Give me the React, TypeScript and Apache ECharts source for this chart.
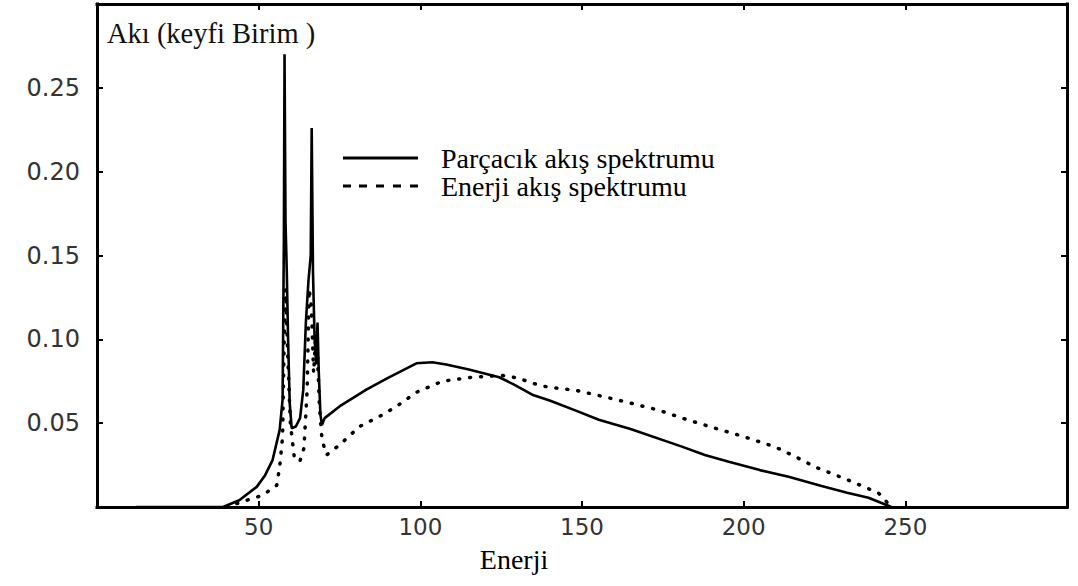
import React, { useEffect, useRef } from "react";
import * as echarts from "echarts";

// Particle flux spectrum (solid)
const particleEnergy = [12, 39, 44, 49.4, 52, 54.3, 56.5, 57.4, 57.8, 58.0, 58.3, 58.7, 59.1, 59.6, 60.2, 61.5, 62.8, 63.8, 64.6, 65.4, 66.1, 66.4, 66.8, 67.3, 67.8, 68.2, 68.6, 69.1, 69.6, 70.4, 75, 83.3, 90, 98.8, 103.7, 108, 115, 124.4, 129, 134.6, 140, 148.1, 155.2, 165, 180.9, 188, 195.4, 205, 213.9, 224.1, 232, 238.6, 245.7];
const particleFlux = [0, 0, 0.004, 0.012, 0.019, 0.028, 0.046, 0.064, 0.16, 0.27, 0.17, 0.14, 0.1, 0.062, 0.047, 0.048, 0.053, 0.07, 0.11, 0.135, 0.15, 0.226, 0.14, 0.1, 0.085, 0.11, 0.08, 0.055, 0.049, 0.053, 0.06, 0.07, 0.077, 0.0857, 0.0863, 0.085, 0.082, 0.0774, 0.073, 0.067, 0.0635, 0.0575, 0.052, 0.0465, 0.036, 0.031, 0.027, 0.022, 0.018, 0.0125, 0.0085, 0.0055, 0];

// Energy flux spectrum (dotted)
const energyEnergy = [40, 46.3, 51.2, 55.6, 56.5, 57.4, 57.9, 58.4, 59.0, 59.8, 61, 62.7, 64, 65, 65.6, 66.3, 67, 67.6, 68.2, 68.8, 69.6, 71, 75, 81.2, 88.3, 92.6, 98.8, 106.8, 116, 125.3, 130, 136.7, 140, 148.1, 157.4, 165, 173.8, 181, 190.1, 200, 209.9, 216, 222.2, 232.4, 241.7, 245.7];
const energyFlux = [0, 0.004, 0.007, 0.013, 0.024, 0.042, 0.1, 0.13, 0.09, 0.05, 0.03, 0.027, 0.035, 0.07, 0.13, 0.12, 0.08, 0.1, 0.09, 0.06, 0.04, 0.031, 0.037, 0.048, 0.055, 0.06, 0.0684, 0.075, 0.0774, 0.0785, 0.077, 0.0726, 0.0714, 0.0696, 0.0655, 0.062, 0.0577, 0.053, 0.0476, 0.042, 0.0357, 0.03, 0.0238, 0.016, 0.0083, 0];

const xTickLabels = ["50", "100", "150", "200", "250"];
const yTickLabels = ["0.05", "0.10", "0.15", "0.20", "0.25"];

const seriesNames = ["Parçacık akış spektrumu", "Enerji akış spektrumu"];
const xAxisName = "Enerji";
const yAxisName = "Akı (keyfi Birim )";

const pairs = (xs: number[], ys: number[]) => xs.map((x, i) => [x, ys[i]]);

const SOLID_ICON = "path://M0,0h75v3h-75z";
const DASH_ICON = "path://M0,0h8v3h-8z M16,0h8v3h-8z M33,0h8v3h-8z M50,0h8v3h-8z M67,0h8v3h-8z";

export default function App() {
  const ref = useRef<HTMLDivElement>(null);
  useEffect(() => {
    if (!ref.current) return;
    const chart = echarts.init(ref.current, undefined, { renderer: "svg" });
    const serif = "Liberation Serif, Times New Roman, serif";
    const sans = "DejaVu Sans, sans-serif";
    const tick = () => ({ show: true, inside: true, length: 6, lineStyle: { color: "#000", width: 2 } });
    const line = () => ({ show: true, onZero: false, lineStyle: { color: "#000", width: 3, cap: "square" } });
    chart.setOption({
      animation: false,
      backgroundColor: "#fff",
      grid: { left: 97, right: 11, top: 4, bottom: 79, show: false },
      legend: {
        orient: "vertical",
        left: 338,
        top: 139,
        itemWidth: 75,
        itemHeight: 3,
        itemGap: 0,
        textStyle: { fontFamily: serif, fontSize: 28, lineHeight: 26, color: "#000", padding: [0, 0, 0, 18] },
        data: [
          { name: seriesNames[0], icon: SOLID_ICON, itemStyle: { color: "#000" } },
          { name: seriesNames[1], icon: DASH_ICON, itemStyle: { color: "#000" } },
        ],
      },
      xAxis: [
        {
          type: "value",
          min: 0,
          max: 300,
          interval: 50,
          position: "bottom",
          name: xAxisName,
          nameLocation: "middle",
          nameGap: 38,
          nameTextStyle: { fontFamily: serif, fontSize: 28, color: "#000", padding: [0, 136, 0, 0] },
          axisLine: line(),
          axisTick: tick(),
          splitLine: { show: false },
          axisLabel: {
            margin: 8,
            fontFamily: sans,
            fontSize: 23,
            color: "#333",
            formatter: (v: number) => {
              const s = String(v);
              return xTickLabels.includes(s) ? s : "";
            },
          },
        },
        {
          type: "value",
          min: 0,
          max: 300,
          interval: 50,
          position: "top",
          axisLine: line(),
          axisTick: tick(),
          axisLabel: { show: false },
          splitLine: { show: false },
        },
      ],
      yAxis: [
        {
          type: "value",
          min: 0,
          max: 0.3,
          interval: 0.05,
          position: "left",
          name: yAxisName,
          nameLocation: "end",
          nameGap: -29,
          nameTextStyle: { fontFamily: serif, fontSize: 28.5, color: "#111", align: "left", verticalAlign: "middle", padding: [0, 0, 0, 10] },
          axisLine: line(),
          axisTick: tick(),
          splitLine: { show: false },
          axisLabel: {
            margin: 17,
            fontFamily: sans,
            fontSize: 24,
            color: "#333",
            formatter: (v: number) => {
              const s = v.toFixed(2);
              return yTickLabels.includes(s) ? s : "";
            },
          },
        },
        {
          type: "value",
          min: 0,
          max: 0.3,
          interval: 0.05,
          position: "right",
          axisLine: line(),
          axisTick: tick(),
          axisLabel: { show: false },
          splitLine: { show: false },
        },
      ],
      series: [
        {
          name: seriesNames[0],
          type: "line",
          data: pairs(particleEnergy, particleFlux),
          symbol: "none",
          z: 3,
          itemStyle: { color: "#000" },
          lineStyle: { color: "#000", width: 2.6, type: "solid" },
        },
        {
          name: seriesNames[1],
          type: "line",
          data: pairs(energyEnergy, energyFlux),
          symbol: "none",
          z: 2,
          itemStyle: { color: "#000" },
          lineStyle: { color: "#000", width: 3.5, type: [1, 10], cap: "round" },
        },
      ],
    });
    return () => chart.dispose();
  }, []);
  return <div ref={ref} style={{ position: "absolute", left: 0, top: 0, width: 1078, height: 586 }} />;
}
